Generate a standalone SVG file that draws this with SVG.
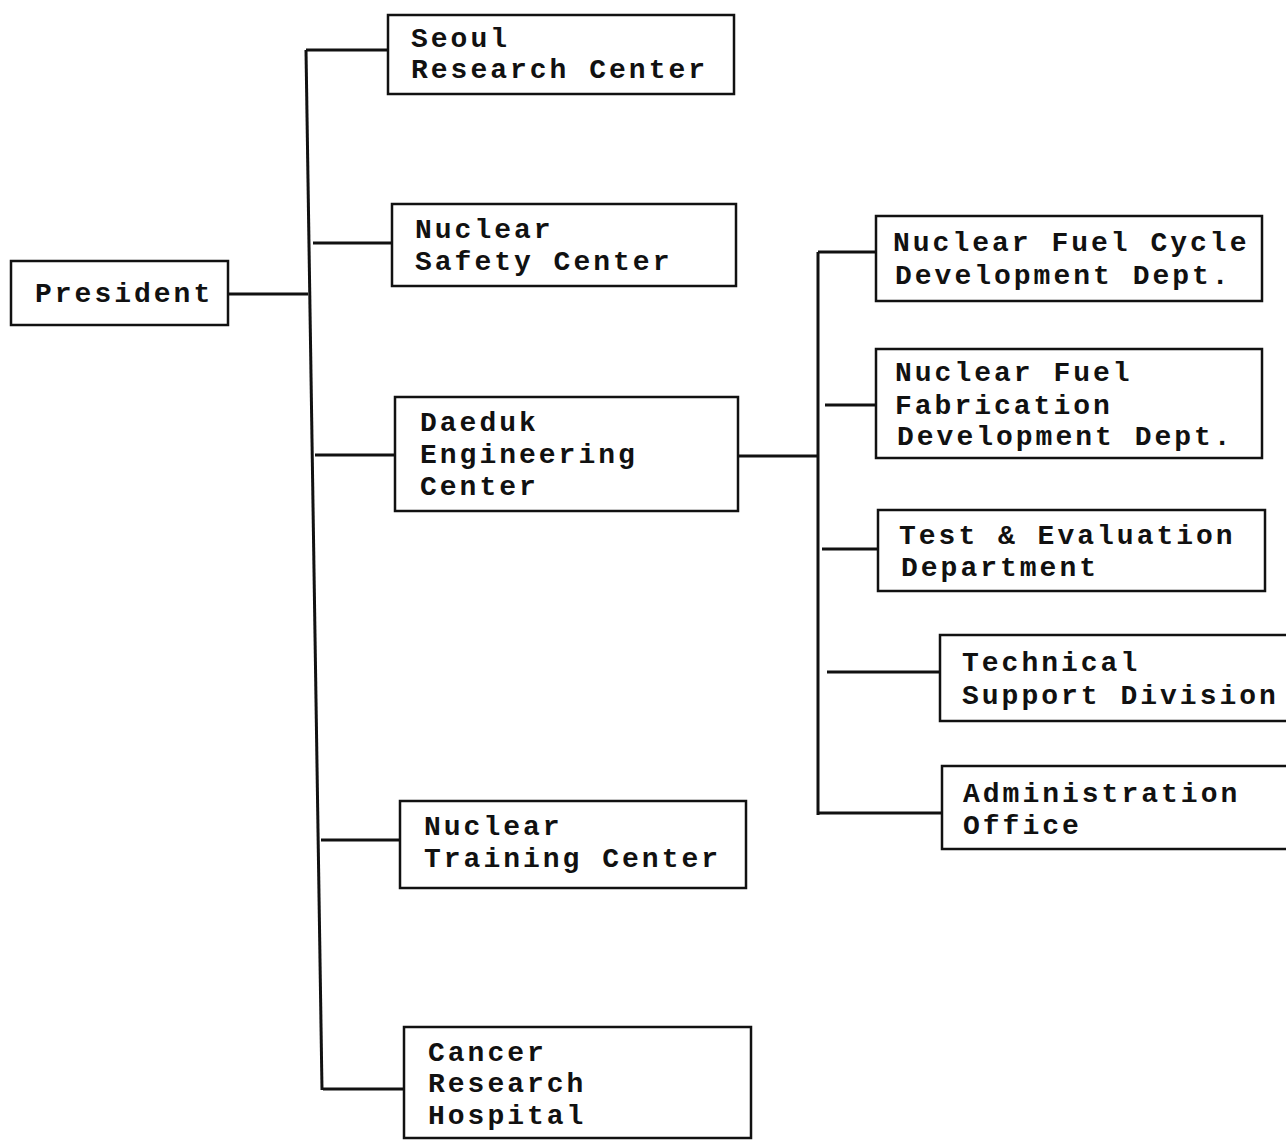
<svg xmlns="http://www.w3.org/2000/svg" width="1286" height="1141" viewBox="0 0 1286 1141">
<style>
.box{fill:#fff;stroke:#111;stroke-width:2.5}
.c{stroke:#111;stroke-width:3;fill:none}
.t{font-family:"Liberation Mono","Courier New",monospace;font-size:28px;letter-spacing:3px;font-weight:bold;fill:#111}
</style>
<rect width="1286" height="1141" fill="#fff"/>
<g id="connectors">
<path class="c" d="M306,50 L322,1090"/>
<path class="c" d="M306,50 H388"/>
<path class="c" d="M228,294 H308"/>
<path class="c" d="M313,243 H392"/>
<path class="c" d="M315,455 H395"/>
<path class="c" d="M321,840 H400"/>
<path class="c" d="M323,1089 H404"/>
<path class="c" d="M738,456 H818"/>
<path class="c" d="M818,252 V815"/>
<path class="c" d="M818,252 H876"/>
<path class="c" d="M825,405 H876"/>
<path class="c" d="M822,549 H878"/>
<path class="c" d="M827,672 H940"/>
<path class="c" d="M818,813 H942"/>
</g>
<g id="president"><rect class="box" x="11" y="261" width="217" height="64"/><text class="t" x="35" y="302">President</text></g>
<g id="seoul"><rect class="box" x="388" y="15" width="346" height="79"/><text class="t" x="411" y="47">Seoul</text><text class="t" x="411" y="78">Research Center</text></g>
<g id="safety"><rect class="box" x="392" y="204" width="344" height="82"/><text class="t" x="415" y="238">Nuclear</text><text class="t" x="415" y="270">Safety Center</text></g>
<g id="daeduk"><rect class="box" x="395" y="397" width="343" height="114"/><text class="t" x="420" y="431">Daeduk</text><text class="t" x="420" y="463">Engineering</text><text class="t" x="420" y="495">Center</text></g>
<g id="training"><rect class="box" x="400" y="801" width="346" height="87"/><text class="t" x="424" y="835">Nuclear</text><text class="t" x="424" y="867">Training Center</text></g>
<g id="hospital"><rect class="box" x="404" y="1027" width="347" height="111"/><text class="t" x="428" y="1061">Cancer</text><text class="t" x="428" y="1092">Research</text><text class="t" x="428" y="1124">Hospital</text></g>
<g id="nfcd"><rect class="box" x="876" y="216" width="386" height="85"/><text class="t" x="893" y="251">Nuclear Fuel Cycle</text><text class="t" x="895" y="284">Development Dept.</text></g>
<g id="nffd"><rect class="box" x="876" y="349" width="386" height="109"/><text class="t" x="895" y="381">Nuclear Fuel</text><text class="t" x="895" y="414">Fabrication</text><text class="t" x="897" y="445">Development Dept.</text></g>
<g id="test"><rect class="box" x="878" y="510" width="387" height="81"/><text class="t" x="899" y="544">Test &amp; Evaluation</text><text class="t" x="901" y="576">Department</text></g>
<g id="tech"><rect class="box" x="940" y="635" width="350" height="86"/><text class="t" x="962" y="671">Technical</text><text class="t" x="962" y="704">Support Division</text></g>
<g id="admin"><rect class="box" x="942" y="766" width="350" height="83"/><text class="t" x="963" y="802">Administration</text><text class="t" x="963" y="834">Office</text></g>
</svg>
